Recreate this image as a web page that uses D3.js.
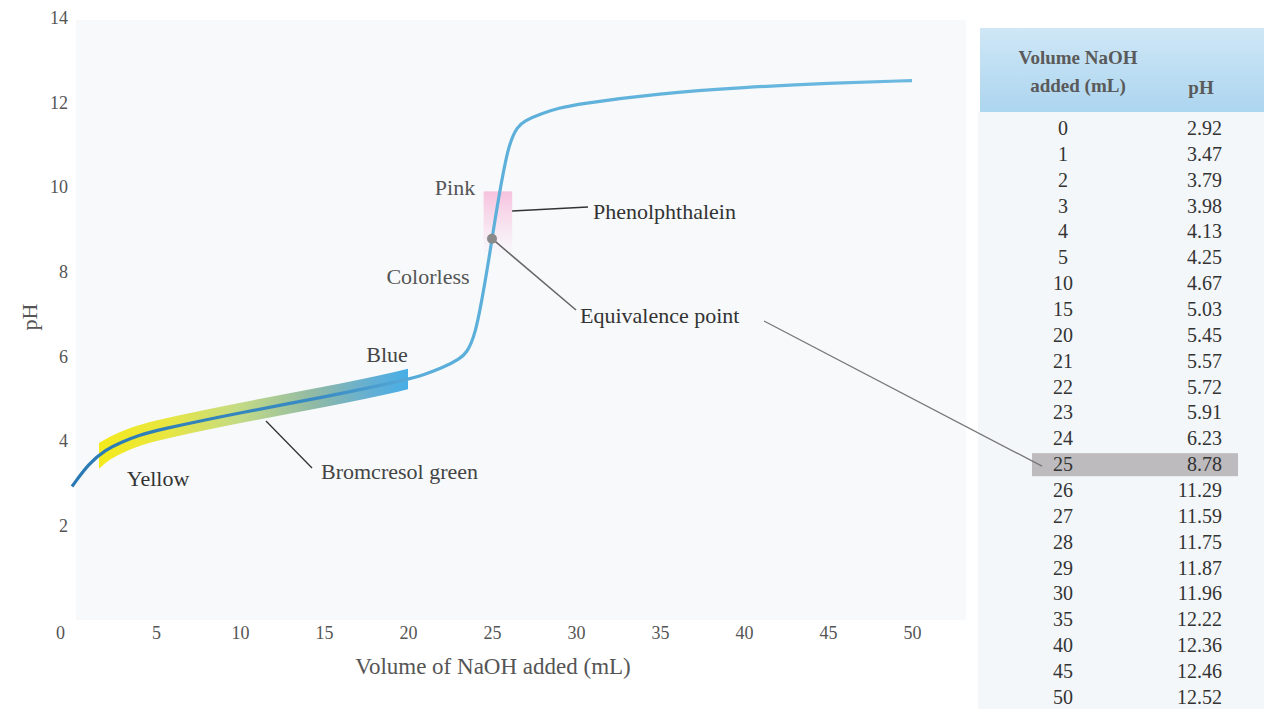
<!DOCTYPE html>
<html>
<head>
<meta charset="utf-8">
<script src="https://cdn.jsdelivr.net/npm/d3@7"></script>
<style>
  body { margin: 0; background: #fff; }
  text { font-family: "Liberation Serif", "DejaVu Serif", serif; }
</style>
</head>
<body>
<div id="chart"></div>
<script>
// Titration data (table values)
const volume = [0, 1, 2, 3, 4, 5, 10, 15, 20, 21, 22, 23, 24, 25, 26, 27, 28, 29, 30, 35, 40, 45, 50];
const pH = [2.92, 3.47, 3.79, 3.98, 4.13, 4.25, 4.67, 5.03, 5.45, 5.57, 5.72, 5.91, 6.23, 8.78, 11.29, 11.59, 11.75, 11.87, 11.96, 12.22, 12.36, 12.46, 12.52];
const pHLabels = ["2.92", "3.47", "3.79", "3.98", "4.13", "4.25", "4.67", "5.03", "5.45", "5.57", "5.72", "5.91", "6.23", "8.78", "11.29", "11.59", "11.75", "11.87", "11.96", "12.22", "12.36", "12.46", "12.52"];
const xTicks = [0, 5, 10, 15, 20, 25, 30, 35, 40, 45, 50];
const yTicks = [2, 4, 6, 8, 10, 12, 14];
// indicator ranges (mL on x, pH on y)
const bromcresol = { from: 1.6, to: 20 };
const phenol = { from: 24.5, to: 26.2, pHlow: 8.3, pHhigh: 9.9 };
const equivVolume = 25, equivPH = 8.78;

const W = 1264, H = 709;
const svg = d3.select("#chart").append("svg")
  .attr("width", W).attr("height", H);

const x = d3.scaleLinear().domain([0, 50]).range([72, 912]);
const y = d3.scaleLinear().domain([0, 14]).range([610, 18]);

const defs = svg.append("defs");

// faint page background behind plot and table
svg.append("rect").attr("x", 76).attr("y", 20).attr("width", 890).attr("height", 600)
  .attr("fill", "#f7f9fb");
svg.append("rect").attr("x", 978).attr("y", 112).attr("width", 286).attr("height", 597)
  .attr("fill", "#f3f7fa");

// gradients
const bandGrad = defs.append("linearGradient").attr("id", "bandGrad")
  .attr("gradientUnits", "userSpaceOnUse")
  .attr("x1", x(bromcresol.from)).attr("x2", x(bromcresol.to)).attr("y1", 0).attr("y2", 0);
[["0%", "#f4ea1c"], ["22%", "#e8e640"], ["45%", "#c4db84"], ["70%", "#8fb9a6"], ["88%", "#63afd4"], ["100%", "#47aee6"]]
  .forEach(([o, c]) => bandGrad.append("stop").attr("offset", o).attr("stop-color", c));

const lineGrad = defs.append("linearGradient").attr("id", "lineGrad")
  .attr("gradientUnits", "userSpaceOnUse")
  .attr("x1", x(0)).attr("x2", x(50)).attr("y1", 0).attr("y2", 0);
[["0%", "#2a79b4"], ["30%", "#3a8cc4"], ["42%", "#5aaed9"], ["100%", "#6cb9e0"]]
  .forEach(([o, c]) => lineGrad.append("stop").attr("offset", o).attr("stop-color", c));

const pinkGrad = defs.append("linearGradient").attr("id", "pinkGrad")
  .attr("x1", 0).attr("x2", 0).attr("y1", 0).attr("y2", 1);
pinkGrad.append("stop").attr("offset", "0%").attr("stop-color", "#f6bfdc").attr("stop-opacity", 0.95);
pinkGrad.append("stop").attr("offset", "45%").attr("stop-color", "#f8d4e8").attr("stop-opacity", 0.7);
pinkGrad.append("stop").attr("offset", "100%").attr("stop-color", "#fbe8f2").attr("stop-opacity", 0);

const headGrad = defs.append("linearGradient").attr("id", "headGrad")
  .attr("x1", 0).attr("x2", 0).attr("y1", 0).attr("y2", 1);
headGrad.append("stop").attr("offset", "0%").attr("stop-color", "#cfe7f6");
headGrad.append("stop").attr("offset", "100%").attr("stop-color", "#acd5ef");

defs.append("clipPath").attr("id", "bandClip").append("rect")
  .attr("x", x(bromcresol.from)).attr("y", 0)
  .attr("width", x(bromcresol.to) - x(bromcresol.from)).attr("height", H);

const points = volume.map((v, i) => [v, pH[i]]);
const line = d3.line().x(d => x(d[0])).y(d => y(d[1])).curve(d3.curveBasis);

// bromcresol green band
svg.append("path").attr("d", line(points))
  .attr("fill", "none").attr("stroke", "url(#bandGrad)").attr("stroke-width", 20)
  .attr("clip-path", "url(#bandClip)");

// phenolphthalein band
svg.append("rect")
  .attr("x", x(phenol.from)).attr("y", y(phenol.pHhigh))
  .attr("width", x(phenol.to) - x(phenol.from)).attr("height", y(phenol.pHlow) - y(phenol.pHhigh))
  .attr("fill", "url(#pinkGrad)");

// titration curve
svg.append("path").attr("d", line(points))
  .attr("fill", "none").attr("stroke", "url(#lineGrad)").attr("stroke-width", 3.2);

// axes (labels only)
const xAxis = svg.append("g").attr("transform", "translate(0,620)")
  .call(d3.axisBottom(x).tickValues(xTicks).tickSize(0).tickPadding(6));
const yAxis = svg.append("g").attr("transform", "translate(70,0)")
  .call(d3.axisLeft(y).tickValues(yTicks).tickSize(0).tickPadding(2));
[xAxis, yAxis].forEach(g => {
  g.select(".domain").remove();
  g.selectAll("text").attr("fill", "#555").style("font-size", "18px")
    .style("font-family", '"Liberation Serif", serif');
});
xAxis.selectAll(".tick").filter(d => d === 0).select("text").attr("dx", -12);

svg.append("text").attr("x", 493).attr("y", 674).attr("text-anchor", "middle")
  .attr("fill", "#555").style("font-size", "23px").text("Volume of NaOH added (mL)");
svg.append("text").attr("transform", "translate(37,317) rotate(-90)").attr("text-anchor", "middle")
  .attr("fill", "#555").style("font-size", "22px").text("pH");

// annotations
const ann = (tx, ty, s, anchor, col) => svg.append("text").attr("x", tx).attr("y", ty)
  .attr("text-anchor", anchor || "start").attr("fill", col || "#333")
  .style("font-size", "22px").text(s);

ann(455, 195, "Pink", "middle", "#555");
ann(428, 284, "Colorless", "middle", "#555");
ann(387, 362, "Blue", "middle", "#444");
ann(158, 486, "Yellow", "middle", "#333");
ann(321, 479, "Bromcresol green", "start", "#444");
ann(593, 219, "Phenolphthalein");
ann(580, 323, "Equivalence point");

svg.append("line").attr("x1", x(phenol.to)).attr("y1", 211).attr("x2", 588).attr("y2", 207)
  .attr("stroke", "#333").attr("stroke-width", 1.3);
svg.append("line").attr("x1", 266).attr("y1", 421).attr("x2", 312).attr("y2", 468)
  .attr("stroke", "#333").attr("stroke-width", 1.3);

const ex = x(equivVolume), ey = y(equivPH);
svg.append("line").attr("x1", ex).attr("y1", ey).attr("x2", 576).attr("y2", 310)
  .attr("stroke", "#666").attr("stroke-width", 1.6);
svg.append("circle").attr("cx", ex).attr("cy", ey).attr("r", 5).attr("fill", "#8a8a8a");

// table
const rowY = i => 128 + i * 25.86;
svg.append("rect").attr("x", 980).attr("y", 28).attr("width", 284).attr("height", 84)
  .attr("fill", "url(#headGrad)");
const eqIdx = volume.indexOf(equivVolume);
svg.append("rect").attr("x", 1032).attr("y", rowY(eqIdx) - 11).attr("width", 206).attr("height", 23)
  .attr("fill", "#bdbbbe");
svg.append("line").attr("x1", 764).attr("y1", 321).attr("x2", 1042).attr("y2", rowY(eqIdx) + 2)
  .attr("stroke", "#777").attr("stroke-width", 1.3);

const head = svg.append("g").attr("fill", "#5a5a5a").style("font-weight", "bold").style("font-size", "19px");
head.append("text").attr("x", 1078).attr("y", 64).attr("text-anchor", "middle").text("Volume NaOH");
head.append("text").attr("x", 1078).attr("y", 92).attr("text-anchor", "middle").text("added (mL)");
head.append("text").attr("x", 1201).attr("y", 94).attr("text-anchor", "middle").text("pH");

const rows = svg.append("g").selectAll("g").data(volume).join("g")
  .attr("transform", (d, i) => `translate(0,${rowY(i) + 7})`);
rows.append("text").attr("x", 1063).attr("text-anchor", "middle").attr("fill", "#333")
  .style("font-size", "20px").text(d => d);
rows.append("text").attr("x", 1222).attr("text-anchor", "end").attr("fill", "#333")
  .style("font-size", "20px").text((d, i) => pHLabels[i]);
</script>
</body>
</html>
